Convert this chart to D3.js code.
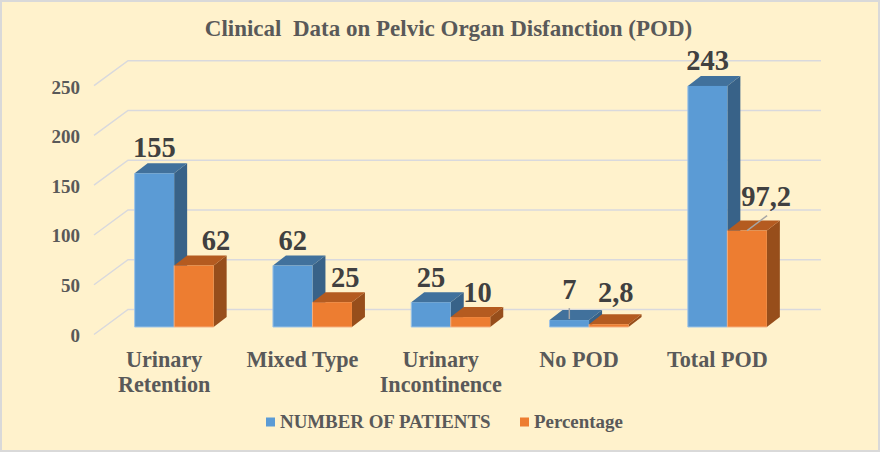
<!DOCTYPE html>
<html>
<head>
<meta charset="utf-8">
<style>
  html, body { margin: 0; padding: 0; background: #fff2cc; }
  svg { display: block; }
  text { font-family: "Liberation Serif", serif; font-weight: bold; }
</style>
<script src="https://cdn.jsdelivr.net/npm/d3@7"></script>
</head>
<body>
<svg id="chart" width="880" height="452"></svg>
<script>
var categories = ["Urinary Retention", "Mixed Type", "Urinary Incontinence", "No POD", "Total POD"];
var seriesNames = ["NUMBER OF PATIENTS", "Percentage"];
var patients = [155, 62, 25, 7, 243];
var percentage = [62, 25, 10, 2.8, 97.2];
var patientLabels = ["155", "62", "25", "7", "243"];
var percentageLabels = ["62", "25", "10", "2,8", "97,2"];
var yTicks = [0, 50, 100, 150, 200, 250];

var width = 880, height = 452;
var depthX = 13, depthY = 10;     // bar depth
var wallX = 34, wallY = 25;       // floor depth of the back wall

var colors = [
  { front: "#5b9bd5", top: "#41719c", side: "#386288", edge: "#9dc3e6" },
  { front: "#ed7d31", top: "#b45b20", side: "#974e1b", edge: "#f4b183" }
];

var svg = d3.select("#chart");

var x = d3.scaleBand().domain(categories).range([105, 796.5]);
var xSeries = d3.scaleBand().domain(seriesNames).range([0, 79]);
var y = d3.scaleLinear().domain([0, 250]).range([327, 79]);
var yWall = d3.scaleLinear().domain([0, 250]).range([309.5, 60.7]);
var yFront = d3.scaleLinear().domain([0, 250]).range([335, 87]);

// background and frame
svg.append("rect")
  .attr("x", 1).attr("y", 1)
  .attr("width", width - 2).attr("height", height - 2)
  .attr("fill", "#fff2cc")
  .attr("stroke", "#d9d9d9")
  .attr("stroke-width", 2);

svg.append("text")
  .attr("x", 448.5).attr("y", 36)
  .attr("text-anchor", "middle")
  .attr("font-size", 23)
  .attr("fill", "#595959")
  .attr("xml:space", "preserve")
  .text("Clinical  Data on Pelvic Organ Disfanction (POD)");

// gridlines on wall and floor edge
var grid = svg.append("g")
  .attr("fill", "none")
  .attr("stroke", "#d9d9dd")
  .attr("stroke-width", 1.5);

yTicks.forEach(function(t) {
  grid.append("polyline")
    .attr("points", [
      [128 - wallX, yWall(t) + wallY],
      [128, yWall(t)],
      [821, yWall(t)]
    ].map(function(p) { return p.join(","); }).join(" "));
});

// y axis labels
var yAxis = svg.append("g")
  .attr("transform", "translate(80,0)")
  .call(d3.axisLeft(yFront).tickValues(yTicks).tickSize(0).tickPadding(0));
yAxis.select(".domain").remove();
yAxis.selectAll("text")
  .attr("font-family", "Liberation Serif")
  .attr("font-size", 19)
  .attr("fill", "#595959");

function wrapText(text, maxWidth, lineHeight) {
  text.each(function() {
    var node = d3.select(this);
    var words = node.text().split(" ");
    var tx = node.attr("x");
    node.text(null);
    var line = [];
    var tspan = node.append("tspan").attr("x", tx);
    words.forEach(function(w) {
      line.push(w);
      tspan.text(line.join(" "));
      if (tspan.node().getComputedTextLength() > maxWidth && line.length > 1) {
        line.pop();
        tspan.text(line.join(" "));
        line = [w];
        tspan = node.append("tspan").attr("x", tx).attr("dy", lineHeight).text(w);
      }
    });
  });
}

// category labels
svg.append("g").selectAll("text")
  .data(categories)
  .join("text")
  .attr("x", function(d) { return x(d) + x.bandwidth() / 2 - 10; })
  .attr("y", 366.5)
  .attr("text-anchor", "middle")
  .attr("font-size", 22.2)
  .attr("fill", "#595959")
  .text(function(d) { return d; })
  .call(wrapText, 125, 25);

// bars
var values = [patients, percentage];

function drawBar(g, bx, bw, value, c) {
  var top = y(value), base = y(0);
  var pts = function(a) { return a.map(function(p) { return p.join(","); }).join(" "); };
  g.append("polygon")
    .attr("points", pts([[bx + bw, top], [bx + bw + depthX, top - depthY], [bx + bw + depthX, base - depthY], [bx + bw, base]]))
    .attr("fill", c.side);
  g.append("polygon")
    .attr("points", pts([[bx, top], [bx + depthX, top - depthY], [bx + bw + depthX, top - depthY], [bx + bw, top]]))
    .attr("fill", c.top);
  g.append("rect")
    .attr("x", bx).attr("y", top)
    .attr("width", bw).attr("height", base - top)
    .attr("fill", c.front);
  g.append("polyline")
    .attr("points", pts([[bx, top], [bx, base], [bx + bw, base]]))
    .attr("fill", "none")
    .attr("stroke", c.edge)
    .attr("stroke-width", 1);
}

var bars = svg.append("g");
categories.forEach(function(cat, i) {
  seriesNames.forEach(function(s, k) {
    var cx = x(cat) + x.bandwidth() / 2 - 39.5 + xSeries(s);
    drawBar(bars.append("g"), cx, xSeries.bandwidth(), values[k][i], colors[k]);
  });
});

// leader lines for the two labels that were moved off their bars
var leaders = svg.append("g").attr("stroke", "#a6a6a6").attr("stroke-width", 1.5);
var noPod = x("No POD") + x.bandwidth() / 2 - 39.5 + xSeries(seriesNames[0]) + xSeries.bandwidth() / 2;
leaders.append("line")
  .attr("x1", noPod).attr("x2", noPod)
  .attr("y1", y(7) - 12).attr("y2", y(7) - 1);
var totalPct = x("Total POD") + x.bandwidth() / 2 - 39.5 + xSeries(seriesNames[1]) + xSeries.bandwidth() / 2;
leaders.append("line")
  .attr("x1", totalPct).attr("x2", totalPct + 20)
  .attr("y1", y(97.2)).attr("y2", y(97.2) - 15);

// data labels, nudged by hand like the original
var labelShift = [
  [[0, -16], [22, -15]],
  [[0, -15], [13, -15]],
  [[0, -15], [7, -15]],
  [[0, -21], [7, -22]],
  [[0, -16], [19, -25]]
];
var labelGroup = svg.append("g");
categories.forEach(function(cat, i) {
  seriesNames.forEach(function(s, k) {
    var cx = x(cat) + x.bandwidth() / 2 - 39.5 + xSeries(s) + xSeries.bandwidth() / 2;
    var txt = (k === 0 ? patientLabels : percentageLabels)[i];
    labelGroup.append("text")
      .attr("x", cx + labelShift[i][k][0])
      .attr("y", y(values[k][i]) + labelShift[i][k][1])
      .attr("text-anchor", "middle")
      .attr("font-size", 28.5)
      .attr("fill", "#404040")
      .text(txt);
  });
});

// legend
var legendX = [266, 520];
var legendText = [280, 534];
seriesNames.forEach(function(s, k) {
  svg.append("rect")
    .attr("x", legendX[k]).attr("y", 417.5)
    .attr("width", 9).attr("height", 9)
    .attr("fill", colors[k].front);
  svg.append("text")
    .attr("x", legendText[k]).attr("y", 428)
    .attr("font-size", 18.9)
    .attr("fill", "#595959")
    .text(s);
});
</script>
</body>
</html>
